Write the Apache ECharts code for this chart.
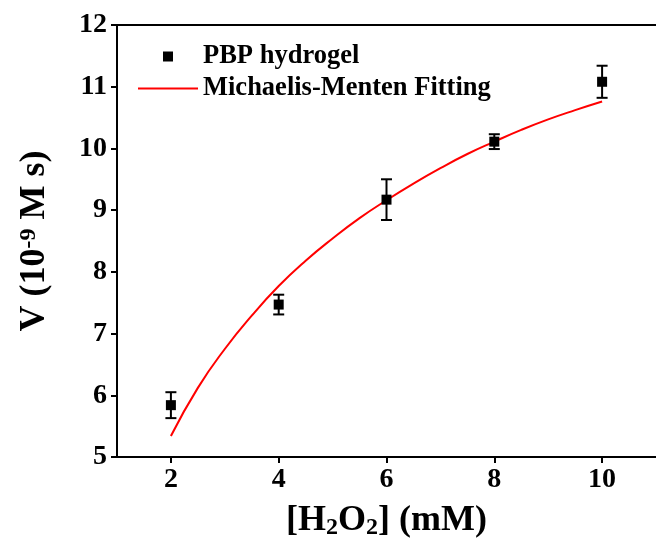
<!DOCTYPE html>
<html>
<head>
<meta charset="utf-8">
<script src="https://cdn.jsdelivr.net/npm/echarts@6/dist/echarts.min.js"></script>
<style>html,body{margin:0;padding:0;background:#fff;}#c{width:656px;height:551px;}</style>
</head>
<body>
<div id="c"></div>
<script>
// Measured data (PBP hydrogel)
const concX = [2, 4, 6, 8, 10];
const velocity = [5.84, 7.47, 9.17, 10.11, 11.08];
const velocityErr = [0.21, 0.16, 0.33, 0.12, 0.26];
// Michaelis-Menten fitting curve
const fitX = [2, 2.5, 3, 3.5, 4, 4.5, 5, 5.5, 6, 6.5, 7, 7.5, 8, 8.5, 9, 9.5, 10];
const fitV = [5.34, 6.12, 6.75, 7.29, 7.77, 8.18, 8.54, 8.87, 9.16, 9.43, 9.68, 9.91, 10.11, 10.30, 10.47, 10.62, 10.76];
// Axis ticks
const xTickValues = [2, 4, 6, 8, 10];
const seriesNames = ['PBP hydrogel', 'Michaelis-Menten Fitting'];

const FONT = "'Liberation Serif', 'Times New Roman', serif";
const chart = echarts.init(document.getElementById('c'));

const scatterData = concX.map((x, i) => [x, velocity[i]]);
const errData = concX.map((x, i) => [x, velocity[i] - velocityErr[i], velocity[i] + velocityErr[i]]);
const fitData = fitX.map((x, i) => [x, fitV[i]]);

const option = {
  backgroundColor: '#fff',
  animation: false,
  grid: { left: 117, right: 0, top: 25, bottom: 94 },
  legend: {
    orient: 'vertical',
    left: 133,
    top: 38,
    itemWidth: 60,
    itemHeight: 10,
    itemGap: 5,
    symbolKeepAspect: true,
    textStyle: { fontFamily: FONT, fontWeight: 'bold', fontSize: 26.5, color: '#000' },
    data: [
      { name: seriesNames[0], icon: 'path://M0,0h10v10h-10z' },
      { name: seriesNames[1], icon: 'path://M0,0h60v2.2h-60z' }
    ]
  },
  xAxis: [{
    type: 'value', min: 1, max: 11,
    name: '{n|[H}{sub|2}{n|O}{sub|2}{n|] (mM)}',
    nameLocation: 'middle', nameGap: 45,
    nameTextStyle: {
      rich: {
        n: { fontFamily: FONT, fontWeight: 'bold', fontSize: 36, color: '#000' },
        sub: { fontFamily: FONT, fontWeight: 'bold', fontSize: 24, color: '#000', verticalAlign: 'bottom', padding: [14, 0, 0, 0] }
      }
    },
    axisLine: { show: true, onZero: false, lineStyle: { color: '#000', width: 2 } },
    axisTick: { show: true, customValues: xTickValues, length: 6, lineStyle: { color: '#000', width: 2 } },
    axisLabel: { customValues: xTickValues, margin: 9, fontFamily: FONT, fontWeight: 'bold', fontSize: 28, color: '#000' },
    splitLine: { show: false }
  }, {
    type: 'value', min: 1, max: 11, position: 'top',
    axisLine: { show: true, onZero: false, lineStyle: { color: '#000', width: 2 } },
    axisTick: { show: false }, axisLabel: { show: false }, splitLine: { show: false }
  }],
  yAxis: {
    type: 'value', min: 5, max: 12, interval: 1,
    name: '{n|V (10}{sup|-9}{n| M s)}',
    nameLocation: 'middle', nameGap: 64,
    nameTextStyle: {
      rich: {
        n: { fontFamily: FONT, fontWeight: 'bold', fontSize: 36, color: '#000' },
        sup: { fontFamily: FONT, fontWeight: 'bold', fontSize: 24, color: '#000', verticalAlign: 'top' }
      }
    },
    axisLine: { show: true, onZero: false, lineStyle: { color: '#000', width: 2 } },
    axisTick: { show: true, length: 6, lineStyle: { color: '#000', width: 2 } },
    axisLabel: { margin: 10, fontFamily: FONT, fontWeight: 'bold', fontSize: 28, color: '#000' },
    splitLine: { show: false }
  },
  series: [
    {
      name: seriesNames[1],
      type: 'line',
      data: fitData,
      smooth: true,
      showSymbol: false,
      symbol: 'none',
      lineStyle: { color: '#ff0000', width: 2 },
      itemStyle: { color: '#ff0000' },
      z: 2
    },
    {
      name: 'err',
      type: 'custom',
      data: errData,
      renderItem: function (params, api) {
        const x = api.value(0);
        const lo = api.coord([x, api.value(1)]);
        const hi = api.coord([x, api.value(2)]);
        const hw = 5.5;
        const st = { stroke: '#000', lineWidth: 2 };
        return {
          type: 'group',
          children: [
            { type: 'line', shape: { x1: lo[0], y1: lo[1], x2: hi[0], y2: hi[1] }, style: st },
            { type: 'line', shape: { x1: lo[0] - hw, y1: lo[1], x2: lo[0] + hw, y2: lo[1] }, style: st },
            { type: 'line', shape: { x1: hi[0] - hw, y1: hi[1], x2: hi[0] + hw, y2: hi[1] }, style: st }
          ]
        };
      },
      z: 3
    },
    {
      name: seriesNames[0],
      type: 'scatter',
      data: scatterData,
      symbol: 'rect',
      symbolSize: 10,
      itemStyle: { color: '#000', opacity: 1 },
      z: 4
    }
  ]
};
chart.setOption(option);
</script>
</body>
</html>
